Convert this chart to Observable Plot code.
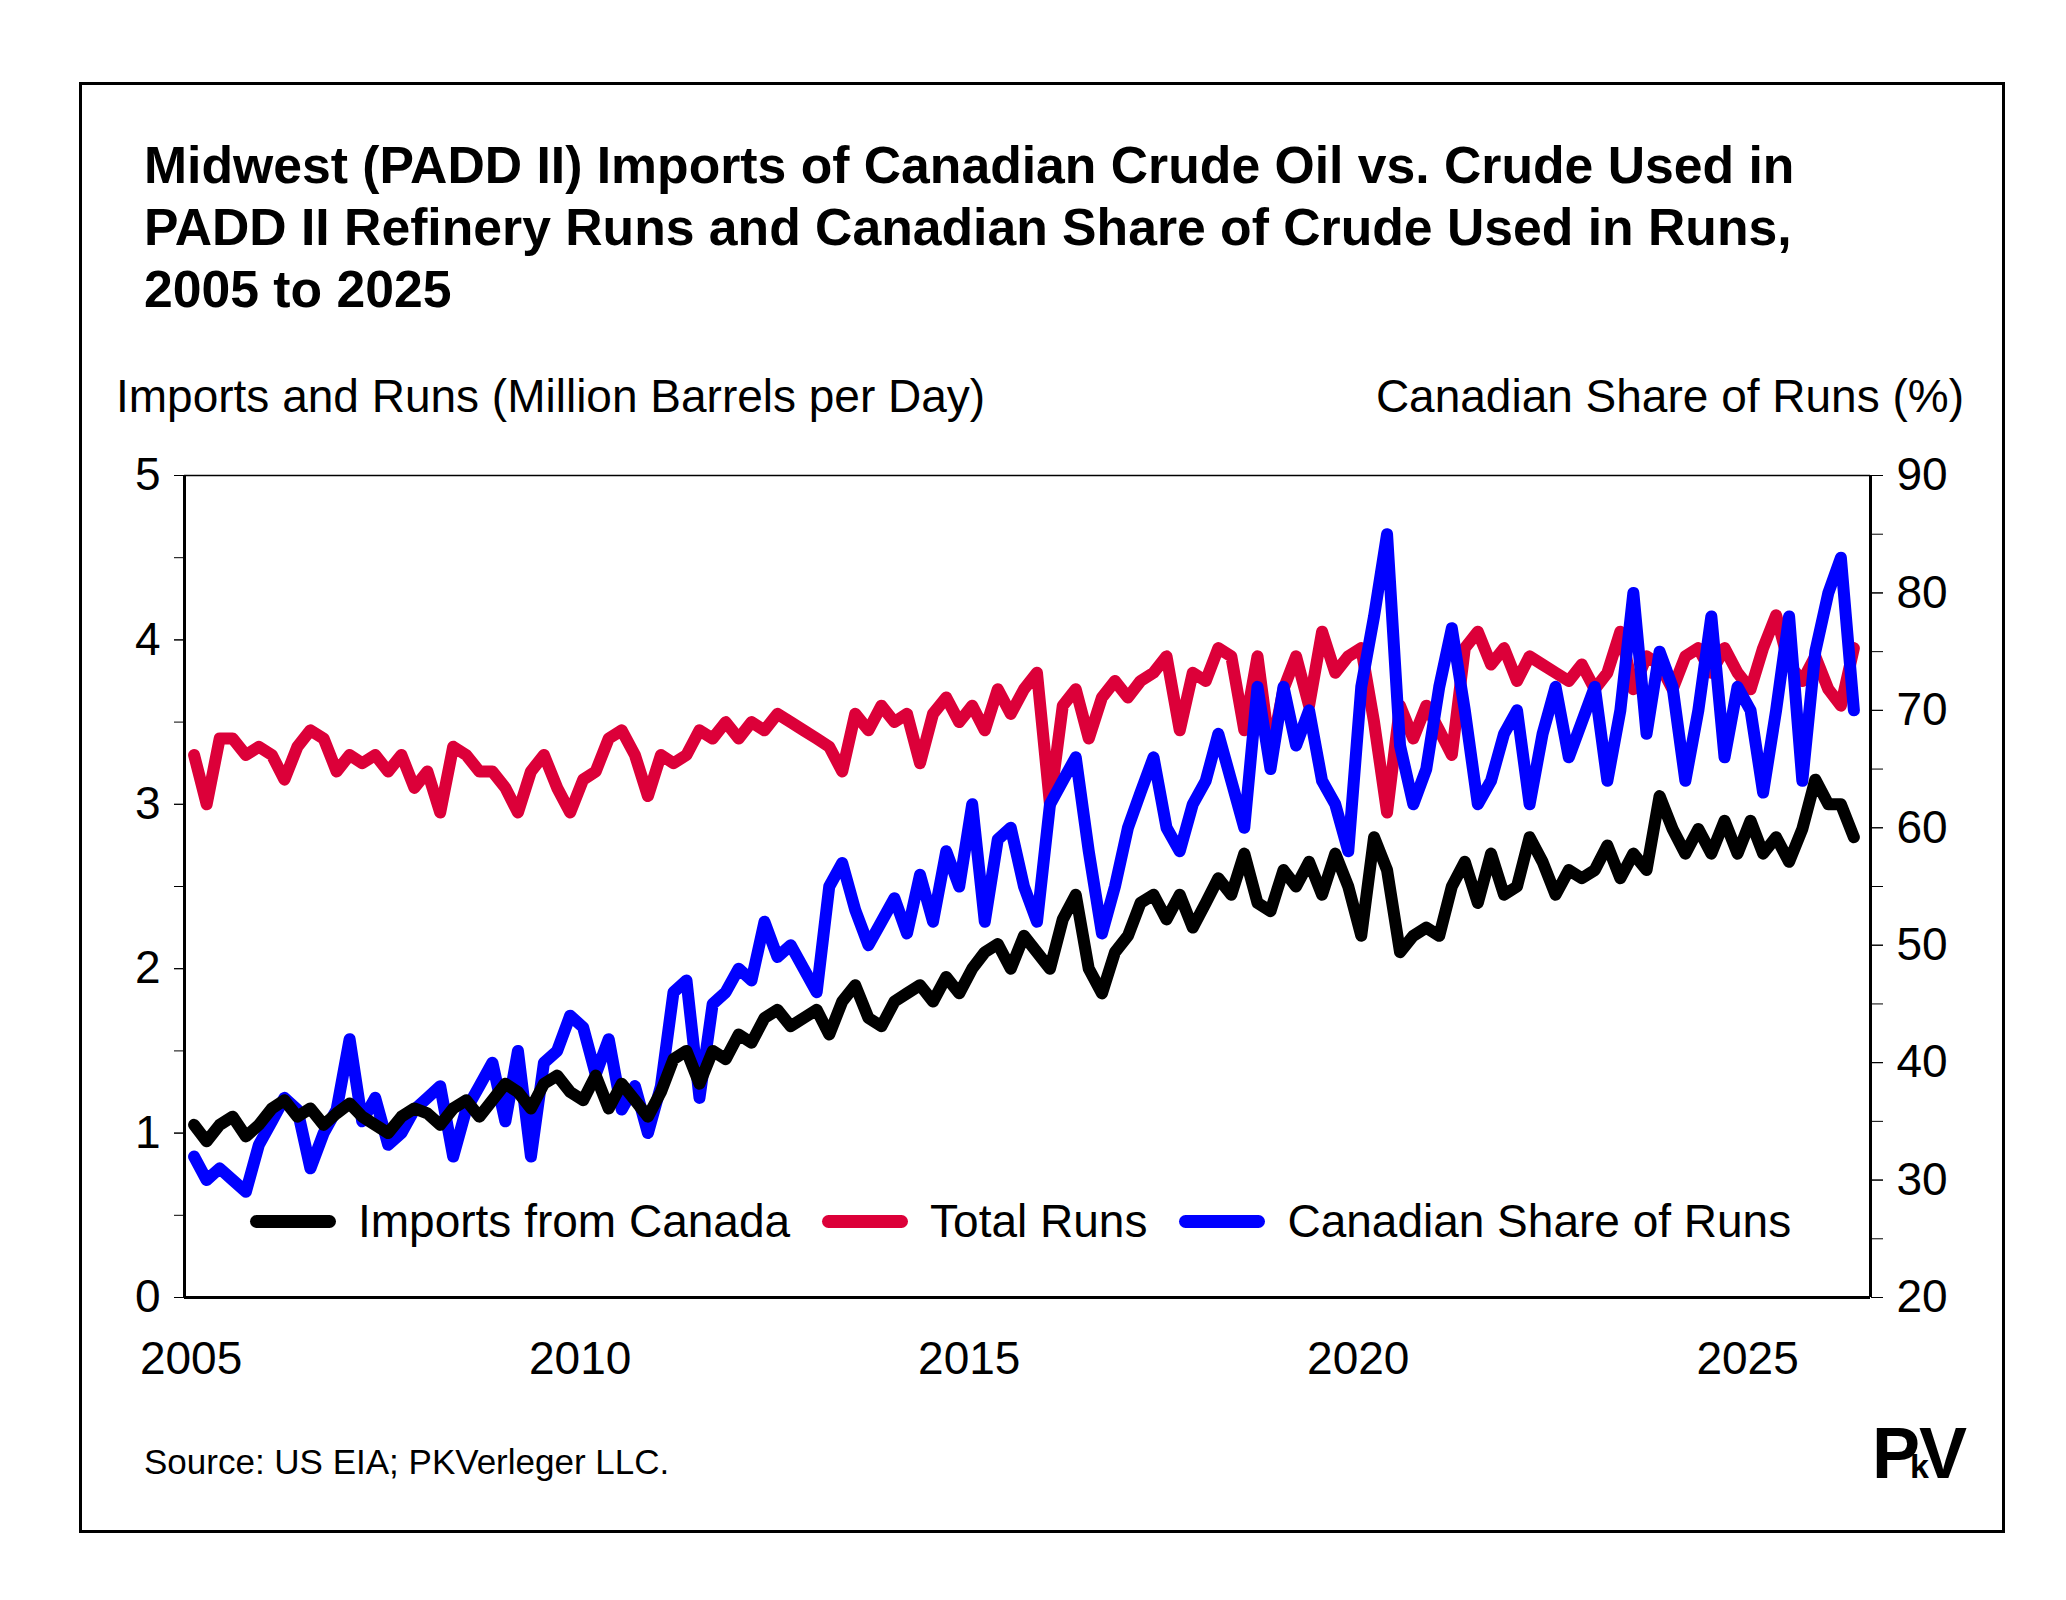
<!DOCTYPE html>
<html><head><meta charset="utf-8">
<script src="https://cdn.jsdelivr.net/npm/d3@7"></script>
<script src="https://cdn.jsdelivr.net/npm/@observablehq/plot@0.6"></script>
<style>
body{margin:0;background:#fff;font-family:"Liberation Sans",Arial,sans-serif;}
#wrap{position:relative;width:2066px;height:1600px;}
.abs{position:absolute;white-space:nowrap;color:#000;}
</style></head><body>
<div id="wrap">
<div class="abs" style="left:79px;top:82px;width:1920px;height:1445px;border:3px solid #000;"></div>
<div class="abs" style="left:144px;top:134px;font-size:51.7px;font-weight:bold;line-height:62px;">Midwest (PADD II) Imports of Canadian Crude Oil vs. Crude Used in<br>PADD II Refinery Runs and Canadian Share of Crude Used in Runs,<br>2005 to 2025</div>
<div class="abs" style="left:116px;top:369px;font-size:46px;">Imports and Runs (Million Barrels per Day)</div>
<div class="abs" style="right:102px;top:369px;font-size:46px;">Canadian Share of Runs (%)</div>
<div class="abs" style="left:144px;top:1442px;font-size:35px;">Source: US EIA; PKVerleger LLC.</div>
<div class="abs" style="left:1872px;top:1412px;font-size:72px;font-weight:bold;letter-spacing:-10px;">P<span style="font-size:34px">k</span>V</div>
<div id="chart" class="abs" style="left:0;top:0;"></div>
<div class="abs" style="left:250px;top:1194px;font-size:46px;display:flex;align-items:center;">
  <span style="display:inline-block;width:86px;height:13px;border-radius:7px;background:#000;margin-right:22px"></span>Imports from Canada
  <span style="display:inline-block;width:86px;height:13px;border-radius:7px;background:#dc0039;margin:0 22px 0 32px"></span>Total Runs
  <span style="display:inline-block;width:86px;height:13px;border-radius:7px;background:#0000ff;margin:0 22px 0 32px"></span>Canadian Share of Runs
</div>
</div>
<script>
// bimonthly observations starting Jan 2005
const imports = [
1.05,0.95,1.05,1.1,0.98,1.05,
1.15,1.2,1.1,1.15,1.05,1.12,
1.18,1.1,1.05,1.0,1.1,1.15,
1.12,1.05,1.15,1.2,1.1,1.2,
1.3,1.25,1.15,1.3,1.35,1.25,
1.2,1.35,1.15,1.3,1.2,1.1,
1.25,1.45,1.5,1.3,1.5,1.45,
1.6,1.55,1.7,1.75,1.65,1.7,
1.75,1.6,1.8,1.9,1.7,1.65,
1.8,1.85,1.9,1.8,1.95,1.85,
2.0,2.1,2.15,2.0,2.2,2.1,
2.0,2.3,2.45,2.0,1.85,2.1,
2.2,2.4,2.45,2.3,2.45,2.25,
2.4,2.55,2.45,2.7,2.4,2.35,
2.6,2.5,2.65,2.45,2.7,2.5,
2.2,2.8,2.6,2.1,2.2,2.25,
2.2,2.5,2.65,2.4,2.7,2.45,
2.5,2.8,2.65,2.45,2.6,2.55,
2.6,2.75,2.55,2.7,2.6,3.05,
2.85,2.7,2.85,2.7,2.9,2.7,
2.9,2.7,2.8,2.65,2.85,3.15,
3.0,3.0,2.8];
const runs = [
3.3,3.0,3.4,3.4,3.3,3.35,
3.3,3.15,3.35,3.45,3.4,3.2,
3.3,3.25,3.3,3.2,3.3,3.1,
3.2,2.95,3.35,3.3,3.2,3.2,
3.1,2.95,3.2,3.3,3.1,2.95,
3.15,3.2,3.4,3.45,3.3,3.05,
3.3,3.25,3.3,3.45,3.4,3.5,
3.4,3.5,3.45,3.55,3.5,3.45,
3.4,3.35,3.2,3.55,3.45,3.6,
3.5,3.55,3.25,3.55,3.65,3.5,
3.6,3.45,3.7,3.55,3.7,3.8,
3.0,3.6,3.7,3.4,3.65,3.75,
3.65,3.75,3.8,3.9,3.45,3.8,
3.75,3.95,3.9,3.45,3.9,3.3,
3.7,3.9,3.6,4.05,3.8,3.9,
3.95,3.5,2.95,3.6,3.4,3.6,
3.45,3.3,3.95,4.05,3.85,3.95,
3.75,3.9,3.85,3.8,3.75,3.85,
3.7,3.8,4.05,3.7,3.9,3.85,
3.7,3.9,3.95,3.8,3.95,3.8,
3.7,3.95,4.15,3.85,3.75,3.9,
3.7,3.6,3.95];
const share = [
32,30,31,30,29,33,
35,37,36,31,34,36,
42,35,37,33,34,36,
37,38,32,36,38,40,
35,41,32,40,41,44,
43,39,42,36,38,34,
38,46,47,37,45,46,
48,47,52,49,50,48,
46,55,57,53,50,52,
54,51,56,52,58,55,
62,52,59,60,55,52,
62,64,66,58,51,55,
60,63,66,60,58,62,
64,68,64,60,72,65,
72,67,70,64,62,58,
72,78,85,67,62,65,
72,77,70,62,64,68,
70,62,68,72,66,69,
72,64,70,80,68,75,
72,64,70,78,66,72,
70,63,70,78,64,75,
80,83,70];
const leftTicks = [0,1,2,3,4,5];
const rightTicks = [20,30,40,50,60,70,80,90];
const yearTicks = [2005,2010,2015,2020,2025];

const toLeft = p => (p - 20) / 70 * 5;
const date = i => new Date(Date.UTC(2005, 2 * i, 15));
const rows = (arr, f = v => v) => arr.map((v, i) => ({d: date(i), v: f(v)}));
const x0 = new Date(Date.UTC(2004, 11, 1)), x1 = new Date(Date.UTC(2026, 7, 1));

const chart = Plot.plot({
  width: 2066, height: 1600,
  marginLeft: 184, marginRight: 196, marginTop: 475, marginBottom: 303,
  style: {fontFamily: "Liberation Sans, Arial, sans-serif", fontSize: "46px", color: "#000", background: "transparent"},
  x: {type: "utc", domain: [x0, x1]},
  y: {domain: [0, 5]},
  marks: [
    Plot.axisX(yearTicks.map(y => new Date(Date.UTC(y, 0, 1))), {tickSize: 0, tickPadding: 44, tickFormat: d => String(d.getUTCFullYear()), fontSize: 46, label: null}),
    Plot.axisY(d3.range(0, 5.01, 0.5), {anchor: "left", tickSize: 10, tickFormat: () => "", label: null}),
    Plot.axisY(leftTicks, {anchor: "left", tickSize: 10, tickPadding: 14, fontSize: 46, tickFormat: v => String(v), label: null}),
    Plot.axisY(d3.range(20, 90.1, 5).map(toLeft), {anchor: "right", tickSize: 12, tickFormat: () => "", label: null}),
    Plot.axisY(rightTicks.map(toLeft), {anchor: "right", tickSize: 12, tickPadding: 14, fontSize: 46, tickFormat: v => String(Math.round(v / 5 * 70 + 20)), label: null}),
    Plot.lineY(rows(runs), {x: "d", y: "v", stroke: "#dc0039", strokeWidth: 12, strokeLinejoin: "round", strokeLinecap: "round"}),
    Plot.lineY(rows(share, toLeft), {x: "d", y: "v", stroke: "#0000ff", strokeWidth: 12, strokeLinejoin: "round", strokeLinecap: "round"}),
    Plot.lineY(rows(imports), {x: "d", y: "v", stroke: "#000", strokeWidth: 12, strokeLinejoin: "round", strokeLinecap: "round"}),
    Plot.ruleX([x0], {stroke: "#000", strokeWidth: 3}),
    Plot.ruleX([x1], {stroke: "#000", strokeWidth: 3}),
    Plot.ruleY([0], {stroke: "#000", strokeWidth: 3}),
    Plot.ruleY([5], {stroke: "#000", strokeWidth: 1.5})
  ]
});
document.getElementById("chart").appendChild(chart);
</script>
</body></html>
